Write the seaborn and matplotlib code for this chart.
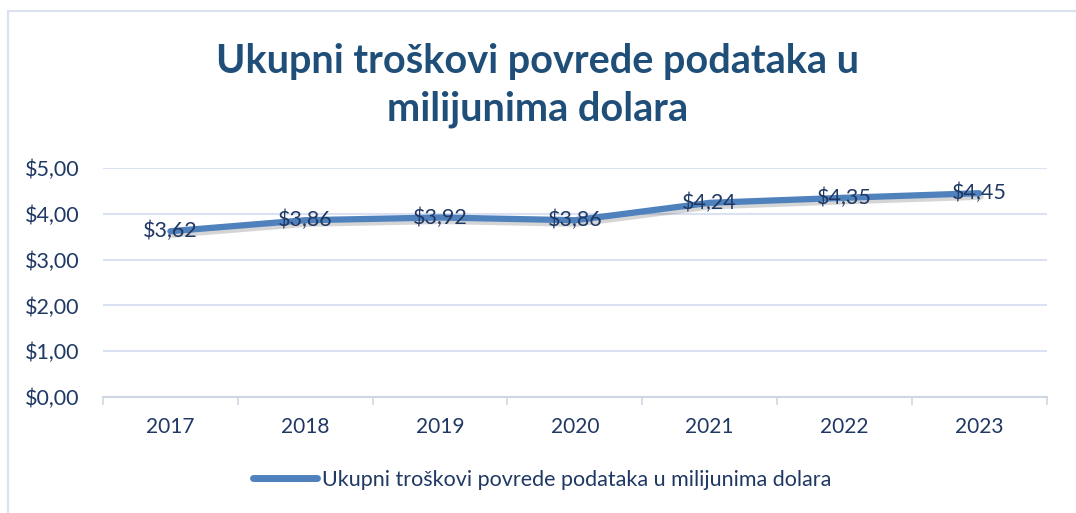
import matplotlib
matplotlib.use("Agg")
import matplotlib.pyplot as plt
import matplotlib.patheffects as pe
from matplotlib.lines import Line2D
import pandas as pd
import seaborn as sns

years = ['2017', '2018', '2019', '2020', '2021', '2022', '2023']
costs = [3.62, 3.86, 3.92, 3.86, 4.24, 4.35, 4.45]
series_name = 'Ukupni troškovi povrede podataka u milijunima dolara'

data = pd.DataFrame({'Godina': years, 'Trošak': costs})

sns.set_theme(style='white')
plt.rcParams['font.family'] = ['Lato', 'DejaVu Sans']

navy = '#1F3864'
blue = '#4F81BD'
grid = '#D9E1F2'

fig = plt.figure(figsize=(10.76, 5.13), dpi=100)
ax = fig.add_axes([0.0957, 0.226, 0.877, 0.4465])

sns.lineplot(data=data, x='Godina', y='Trošak', color=blue, linewidth=4.5,
             ax=ax, solid_capstyle='round', legend=False)
ax.lines[0].set_path_effects([pe.SimpleLineShadow(offset=(1, -2.5), alpha=0.2, shadow_color='#303030'),
                              pe.Normal()])

for i, v in enumerate(costs):
    ax.text(i, v, '$' + f'{v:.2f}'.replace('.', ','), ha='center', va='center',
            fontsize=15.5, color=navy)

ax.set_xlim(-0.5, len(years) - 0.5)
ax.set_ylim(0, 5)
ax.set_yticks([0, 1, 2, 3, 4, 5])
ax.set_yticklabels(['$' + f'{t:.2f}'.replace('.', ',') for t in [0, 1, 2, 3, 4, 5]])
ax.yaxis.grid(True, color=grid, linewidth=1.5)
ax.set_axisbelow(True)
for s in ['top', 'right', 'left']:
    ax.spines[s].set_visible(False)
ax.spines['bottom'].set_color('#D0D7E5')
ax.spines['bottom'].set_linewidth(1.5)

ax.set_xticks([x - 0.5 for x in range(len(years) + 1)], minor=True)
ax.tick_params(axis='x', which='minor', length=6, color='#D0D7E5', width=1.2, bottom=True)
ax.tick_params(axis='x', which='major', length=0, labelsize=15, labelcolor=navy, pad=14)
ax.tick_params(axis='y', length=0, labelsize=15.5, labelcolor=navy, pad=17)
ax.set_xlabel('')
ax.set_ylabel('')

handle = Line2D([], [], color=blue, linewidth=5, solid_capstyle='round')
leg = ax.legend([handle], [series_name], loc='center', bbox_to_anchor=(0.465, -0.362),
                frameon=False, fontsize=15.5, handlelength=3.0, handletextpad=0.2)
for t in leg.get_texts():
    t.set_color(navy)

fig.text(0.5, 0.833, 'Ukupni troškovi povrede podataka u\nmilijunima dolara',
         ha='center', va='center', fontsize=28.5, fontweight='bold', color='#1F4E79',
         linespacing=1.35)

fig.patches.append(plt.Rectangle((0.0075, -0.01), 1.2, 0.988, transform=fig.transFigure,
                                 fill=False, edgecolor='#D9E1F2', linewidth=1.5))

fig.savefig('out.png', dpi=100)
